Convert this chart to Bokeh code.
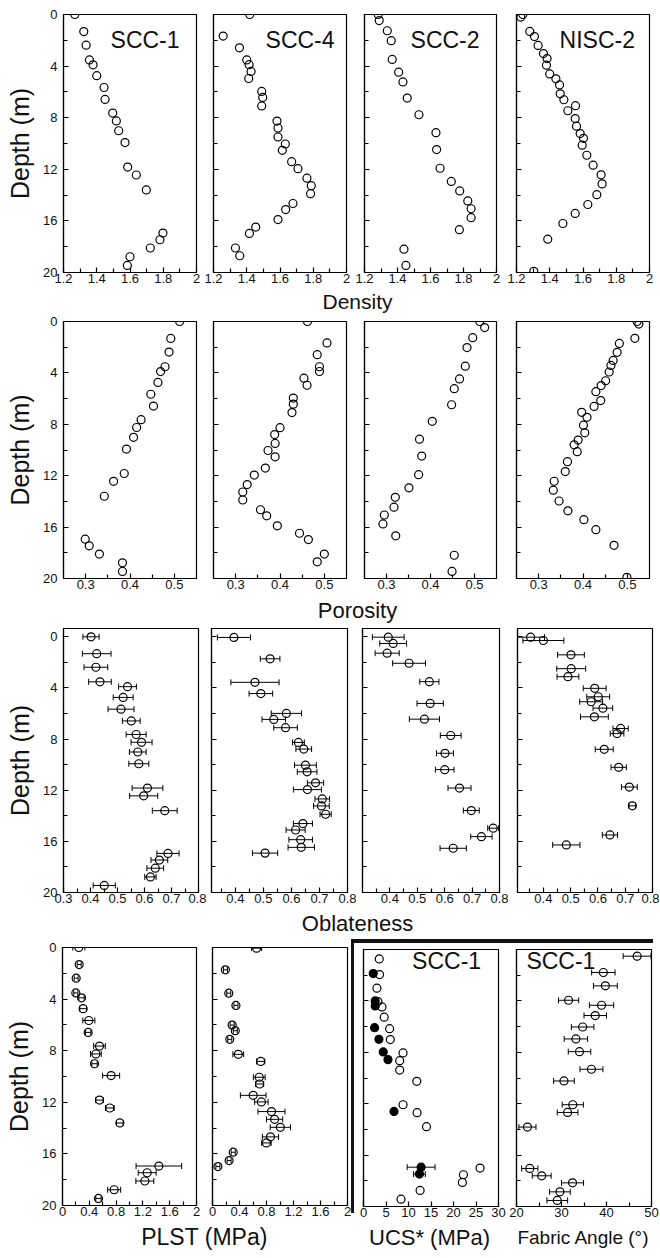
from bokeh.plotting import figure
from bokeh.layouts import row, column
from bokeh.models import Range1d, FixedTicker, Whisker, TeeHead, ColumnDataSource, Label, Div, Spacer
from bokeh.embed import file_html
from bokeh.resources import INLINE
from bokeh.core.properties import value

FONT = "Liberation Sans"

# ---------------- data ----------------
# SCC-1 (same samples for density, porosity, oblateness, PLST)
depth_scc1 = [0, 1.32, 2.38, 3.52, 3.90, 4.74, 5.66, 6.58, 7.64, 8.25, 9.01, 9.93, 11.83, 12.44, 13.6, 16.94, 17.46, 18.1, 18.78, 19.45]
dens_scc1 = [1.268, 1.322, 1.336, 1.356, 1.378, 1.40, 1.444, 1.45, 1.496, 1.518, 1.532, 1.57, 1.586, 1.638, 1.698, 1.798, 1.78, 1.722, 1.60, 1.584]
por_scc1 = [0.512, 0.492, 0.488, 0.479, 0.469, 0.463, 0.447, 0.453, 0.425, 0.415, 0.408, 0.392, 0.387, 0.363, 0.342, 0.299, 0.308, 0.331, 0.383, 0.383]
obl_scc1 = [0.402, 0.423, 0.420, 0.435, 0.537, 0.521, 0.513, 0.551, 0.569, 0.589, 0.575, 0.579, 0.611, 0.597, 0.675, 0.687, 0.655, 0.640, 0.622, 0.451]
obl_err_scc1 = [0.030, 0.053, 0.044, 0.042, 0.033, 0.037, 0.048, 0.033, 0.037, 0.039, 0.031, 0.037, 0.057, 0.052, 0.046, 0.041, 0.031, 0.031, 0.021, 0.041]
plst_scc1 = [0.244, 0.249, 0.204, 0.199, 0.284, 0.308, 0.393, 0.383, 0.552, 0.498, 0.478, 0.726, 0.552, 0.706, 0.856, 1.438, 1.264, 1.229, 0.771, 0.537]
plst_err_scc1 = [0.09, 0.03, 0.03, 0.03, 0.04, 0.05, 0.09, 0.04, 0.087, 0.08, 0.04, 0.127, 0.057, 0.065, 0.05, 0.34, 0.134, 0.134, 0.097, 0.04]

# SCC-4
depth_scc4 = [0, 1.67, 2.58, 3.52, 3.89, 4.41, 4.96, 5.96, 6.43, 7.09, 8.26, 8.80, 9.49, 10.04, 10.53, 11.41, 11.95, 12.69, 13.27, 13.89, 14.65, 15.12, 15.90, 16.48, 16.97, 18.10, 18.70]
dens_scc4 = [1.418, 1.258, 1.356, 1.40, 1.414, 1.426, 1.412, 1.49, 1.496, 1.49, 1.582, 1.588, 1.588, 1.632, 1.614, 1.67, 1.708, 1.762, 1.788, 1.784, 1.678, 1.634, 1.588, 1.454, 1.416, 1.332, 1.358]
por_scc4 = [0.462, 0.506, 0.484, 0.489, 0.489, 0.454, 0.461, 0.430, 0.430, 0.427, 0.400, 0.388, 0.389, 0.373, 0.389, 0.367, 0.342, 0.326, 0.316, 0.316, 0.356, 0.370, 0.394, 0.444, 0.464, 0.500, 0.484]
depth_obl_scc4 = [0.05, 1.72, 3.56, 4.44, 5.99, 6.46, 7.11, 8.26, 8.78, 10.04, 10.56, 11.42, 11.95, 12.68, 13.23, 13.88, 14.61, 15.11, 15.87, 16.47, 16.92]
obl_scc4 = [0.395, 0.524, 0.470, 0.491, 0.582, 0.537, 0.579, 0.625, 0.644, 0.650, 0.656, 0.686, 0.657, 0.71, 0.707, 0.722, 0.641, 0.615, 0.633, 0.635, 0.506]
obl_err_scc4 = [0.059, 0.035, 0.086, 0.042, 0.054, 0.042, 0.042, 0.021, 0.028, 0.039, 0.035, 0.029, 0.05, 0.026, 0.028, 0.02, 0.034, 0.034, 0.042, 0.047, 0.045]
depth_plst_scc4 = [0.05, 1.73, 3.54, 4.49, 6.01, 6.45, 7.12, 8.28, 8.83, 10.06, 10.58, 11.46, 11.97, 12.72, 13.32, 13.94, 14.68, 15.15, 15.87, 16.52, 16.98]
plst_scc4 = [0.653, 0.191, 0.241, 0.347, 0.291, 0.337, 0.256, 0.382, 0.714, 0.693, 0.698, 0.603, 0.724, 0.874, 0.92, 1.005, 0.859, 0.799, 0.307, 0.246, 0.08]
plst_err_scc4 = [0.075, 0.03, 0.03, 0.03, 0.03, 0.03, 0.03, 0.08, 0.06, 0.087, 0.06, 0.19, 0.10, 0.2, 0.12, 0.15, 0.12, 0.07, 0.03, 0.03, 0.03]

# SCC-2
depth_scc2 = [0, 0.47, 1.26, 2.03, 3.48, 4.47, 5.23, 6.48, 7.77, 9.16, 10.47, 11.92, 12.94, 13.68, 14.45, 15.06, 15.75, 16.68, 18.19, 19.45]
dens_scc2 = [1.283, 1.289, 1.338, 1.362, 1.368, 1.407, 1.433, 1.459, 1.53, 1.633, 1.637, 1.658, 1.726, 1.777, 1.826, 1.846, 1.846, 1.775, 1.439, 1.451]
por_scc2 = [0.512, 0.523, 0.496, 0.483, 0.479, 0.466, 0.454, 0.448, 0.404, 0.375, 0.380, 0.373, 0.351, 0.320, 0.317, 0.295, 0.292, 0.321, 0.454, 0.449]
depth_obl_scc2 = [0.03, 0.52, 1.28, 2.07, 3.51, 5.21, 6.44, 7.72, 9.11, 10.39, 11.83, 13.59, 14.97, 15.63, 16.54]
obl_scc2 = [0.394, 0.412, 0.39, 0.47, 0.544, 0.547, 0.526, 0.622, 0.601, 0.60, 0.654, 0.697, 0.777, 0.734, 0.631]
obl_err_scc2 = [0.058, 0.049, 0.044, 0.06, 0.035, 0.048, 0.055, 0.038, 0.031, 0.034, 0.042, 0.029, 0.02, 0.039, 0.048]

# NISC-2
depth_nisc2 = [0, 0.2, 1.31, 1.71, 2.40, 3.03, 3.42, 3.93, 4.61, 4.99, 5.46, 6.15, 6.61, 7.07, 7.46, 8.07, 8.66, 9.23, 9.60, 10.13, 10.91, 11.68, 12.43, 13.13, 13.97, 14.73, 15.42, 16.20, 17.42, 19.91]
dens_nisc2 = [1.238, 1.226, 1.28, 1.308, 1.33, 1.362, 1.384, 1.38, 1.40, 1.437, 1.459, 1.463, 1.485, 1.555, 1.509, 1.553, 1.561, 1.583, 1.603, 1.595, 1.623, 1.661, 1.709, 1.715, 1.683, 1.629, 1.553, 1.479, 1.388, 1.304]
por_nisc2 = [0.522, 0.526, 0.517, 0.482, 0.477, 0.468, 0.463, 0.459, 0.451, 0.441, 0.429, 0.440, 0.425, 0.397, 0.409, 0.401, 0.404, 0.389, 0.380, 0.387, 0.365, 0.360, 0.335, 0.333, 0.346, 0.366, 0.402, 0.429, 0.470, 0.499]
depth_obl_nisc2 = [0.03, 0.29, 1.41, 2.49, 3.12, 4.03, 4.69, 5.08, 5.58, 6.26, 7.17, 7.57, 8.80, 10.21, 11.75, 13.22, 15.50, 16.28]
obl_nisc2 = [0.353, 0.40, 0.501, 0.502, 0.49, 0.588, 0.601, 0.575, 0.618, 0.587, 0.683, 0.67, 0.623, 0.676, 0.715, 0.726, 0.644, 0.484]
obl_err_nisc2 = [0.051, 0.075, 0.049, 0.053, 0.04, 0.042, 0.042, 0.042, 0.036, 0.051, 0.028, 0.025, 0.033, 0.028, 0.029, 0.012, 0.028, 0.05]

# SCC-1 UCS* (open and filled symbols)
depth_ucs_open = [0.73, 1.95, 3.01, 4.05, 4.47, 5.27, 6.16, 7.01, 8.05, 8.65, 9.38, 10.26, 12.08, 12.70, 13.79, 17.01, 17.53, 18.13, 18.75, 19.43]
ucs_open = [3.5, 3.57, 2.98, 3.2, 4.1, 4.6, 5.8, 5.96, 8.79, 8.04, 8.04, 11.84, 8.79, 11.91, 14.0, 25.9, 22.2, 21.97, 12.58, 8.34]
depth_ucs_fill = [1.87, 4.0, 4.39, 6.08, 6.99, 7.97, 8.57, 12.6, 16.94, 17.48]
ucs_fill = [2.16, 2.6, 2.6, 2.46, 3.43, 4.39, 5.44, 6.78, 12.8, 12.43]
ucs_fill_err = [0, 0, 0, 0, 0, 0, 0, 0, 3.1, 1.3]

# SCC-1 fabric angle
depth_fab = [0.52, 1.79, 2.83, 3.95, 4.34, 5.14, 6.03, 6.96, 7.95, 9.32, 10.23, 12.08, 12.68, 13.82, 17.04, 17.61, 18.16, 18.86, 19.53]
fab = [46.8, 39.3, 39.75, 31.57, 38.9, 37.5, 34.7, 33.2, 34.0, 36.65, 30.54, 32.5, 31.35, 22.43, 22.95, 25.6, 32.45, 29.65, 29.06]
fab_err = [3.1, 2.6, 2.65, 2.25, 2.7, 2.5, 2.5, 2.6, 2.5, 2.55, 2.3, 2.35, 2.3, 1.9, 1.8, 2.1, 2.45, 2.3, 2.3]

# tick labels
dens_ticks = [1.2, 1.4, 1.6, 1.8, 2.0]
dens_minor = [1.3, 1.5, 1.7, 1.9]
por_ticks = [0.3, 0.4, 0.5]
por_minor = [0.35, 0.45]
obl_ticks_first = [0.3, 0.4, 0.5, 0.6, 0.7, 0.8]
obl_ticks = [0.4, 0.5, 0.6, 0.7, 0.8]
obl_minor = [0.35, 0.45, 0.55, 0.65, 0.75]
plst_ticks = [0, 0.4, 0.8, 1.2, 1.6, 2.0]
plst_minor = [0.2, 0.6, 1.0, 1.4, 1.8]
ucs_ticks = [0, 5, 10, 15, 20, 25, 30]
fab_ticks = [20, 30, 40, 50]
fab_minor = [25, 35, 45]
depth_ticks = [0, 4, 8, 12, 16, 20]
depth_minor = [2, 6, 10, 14, 18]


# ---------------- helpers ----------------
def panel(w, h, bl, br, bt, bb, xr, yr, xt, xm, ylabels=False):
    p = figure(width=w, height=h, x_range=Range1d(xr[0], xr[1]), y_range=Range1d(yr[0], yr[1]),
               toolbar_location=None, output_backend="svg",
               min_border_left=bl, min_border_right=br, min_border_top=bt, min_border_bottom=bb)
    p.grid.visible = False
    p.outline_line_color = "black"
    p.outline_line_width = 1.2
    xa = p.xaxis[0]
    ya = p.yaxis[0]
    xa.ticker = FixedTicker(ticks=xt, minor_ticks=xm)
    xa.major_label_overrides = {t: ("%g" % t) for t in xt}
    ya.ticker = FixedTicker(ticks=depth_ticks, minor_ticks=depth_minor)
    for ax in (xa, ya):
        ax.axis_line_color = "black"
        ax.axis_line_width = 1.2
        ax.major_tick_line_color = "black"
        ax.minor_tick_line_color = "black"
        ax.major_tick_line_width = 1.2
        ax.minor_tick_line_width = 1.2
        ax.major_tick_in = 5
        ax.major_tick_out = 0
        ax.minor_tick_in = 4
        ax.minor_tick_out = 0
        ax.major_label_text_font = FONT
        ax.major_label_text_font_size = "13px"
        ax.major_label_text_color = "#111111"
    xa.major_label_standoff = 1
    ya.major_label_standoff = 6
    if ylabels:
        ya.axis_label = "Depth (m)"
        ya.axis_label_text_font = FONT
        ya.axis_label_text_font_size = "25px"
        ya.axis_label_text_font_style = "normal"
        ya.axis_label_text_color = "#111111"
        ya.axis_label_standoff = 6
    else:
        ya.major_label_text_font_size = "0px"
        ya.major_label_text_color = None
        ya.major_label_standoff = 0
    return p


def points(p, xs, ys, filled=False):
    p.scatter(x=xs, y=ys, marker="circle", size=8, line_color="black", line_width=1.2,
              fill_color="black" if filled else None)


def errbars(p, xs, ys, errs):
    src = ColumnDataSource(dict(y=ys, lo=[v - e for v, e in zip(xs, errs)], hi=[v + e for v, e in zip(xs, errs)]))
    p.add_layout(Whisker(source=src, base="y", lower="lo", upper="hi", dimension="width",
                         line_color="black", line_width=1,
                         upper_head=TeeHead(size=6, line_color="black", line_width=1),
                         lower_head=TeeHead(size=6, line_color="black", line_width=1)))


def title(p, x, y, text):
    p.add_layout(Label(x=x, y=y, text=text, text_font=FONT, text_font_size="23px",
                       text_color="#111111", text_align="left", text_baseline="middle"))


def label_fig(w, h, items):
    p = figure(width=w, height=h, x_range=Range1d(0, w), y_range=Range1d(0, h),
               toolbar_location=None, output_backend="svg", min_border=0)
    p.axis.visible = False
    p.grid.visible = False
    p.outline_line_color = None
    for (x, y, t, s) in items:
        p.text(x=[x], y=[y], text=[t], text_font=value(FONT), text_font_size=s,
               text_align="center", text_baseline="middle", text_color="#111111")
    return p


# ---------------- row 1: density ----------------
H1 = 14 + 258 + 16
d1 = panel(201, H1, 63, 5, 14, 16, (1.2, 2.0), (20, 0), dens_ticks, dens_minor, ylabels=True)
points(d1, dens_scc1, depth_scc1); title(d1, 1.483, 1.95, "SCC-1")
d2 = panel(150, H1, 12, 5, 14, 16, (1.2, 2.0), (20, 0), dens_ticks, dens_minor)
points(d2, dens_scc4, depth_scc4); title(d2, 1.513, 1.95, "SCC-4")
d3 = panel(150, H1, 13, 5, 14, 16, (1.2, 2.0), (20, 0), dens_ticks, dens_minor)
points(d3, dens_scc2, depth_scc2); title(d3, 1.479, 1.95, "SCC-2")
d4 = panel(155, H1, 15, 7, 14, 16, (1.2, 2.0), (20, 0), dens_ticks, dens_minor)
points(d4, dens_nisc2, depth_nisc2); title(d4, 1.459, 1.95, "NISC-2")
lab1 = label_fig(656, 25, [(357, 12.5, "Density", "21px")])

# ---------------- row 2: porosity ----------------
H2 = 8 + 257 + 16
q1 = panel(201, H2, 63, 5, 8, 16, (0.25, 0.55), (20, 0), por_ticks, por_minor, ylabels=True)
points(q1, por_scc1, depth_scc1)
q2 = panel(150, H2, 12, 5, 8, 16, (0.25, 0.55), (20, 0), por_ticks, por_minor)
points(q2, por_scc4, depth_scc4)
q3 = panel(150, H2, 13, 5, 8, 16, (0.25, 0.55), (20, 0), por_ticks, por_minor)
points(q3, por_scc2, depth_scc2)
q4 = panel(155, H2, 15, 7, 8, 16, (0.25, 0.55), (20, 0), por_ticks, por_minor)
points(q4, por_nisc2, depth_nisc2)
lab2 = label_fig(656, 32, [(357, 16, "Porosity", "22px")])

# ---------------- row 3: oblateness ----------------
H3 = 2 + 264 + 16
o1 = panel(206, H3, 63, 8, 2, 16, (0.3, 0.8), (20, -0.65), obl_ticks_first, obl_minor, ylabels=True)
errbars(o1, obl_scc1, depth_scc1, obl_err_scc1); points(o1, obl_scc1, depth_scc1)
o2 = panel(150, H3, 5, 9, 2, 16, (0.315, 0.8), (20, -0.65), obl_ticks, obl_minor)
errbars(o2, obl_scc4, depth_obl_scc4, obl_err_scc4); points(o2, obl_scc4, depth_obl_scc4)
o3 = panel(152, H3, 6, 9, 2, 16, (0.30, 0.8), (20, -0.65), obl_ticks, obl_minor)
errbars(o3, obl_scc2, depth_obl_scc2, obl_err_scc2); points(o3, obl_scc2, depth_obl_scc2)
o4 = panel(151, H3, 9, 7, 2, 16, (0.305, 0.8), (20, -0.65), obl_ticks, obl_minor)
errbars(o4, obl_nisc2, depth_obl_nisc2, obl_err_nisc2); points(o4, obl_nisc2, depth_obl_nisc2)
lab3 = label_fig(656, 28, [(357, 13.5, "Oblateness", "22px")])

# ---------------- row 4: PLST, UCS*, fabric angle ----------------
H4 = 11 + 258 + 16
s1 = panel(201, H4, 62, 5, 11, 16, (0, 2), (20, 0), plst_ticks, plst_minor, ylabels=True)
errbars(s1, plst_scc1, depth_scc1, plst_err_scc1); points(s1, plst_scc1, depth_scc1)
s2 = panel(150, H4, 11, 4, 11, 16, (0, 2), (20, 0), plst_ticks, plst_minor)
errbars(s2, plst_scc4, depth_plst_scc4, plst_err_scc4); points(s2, plst_scc4, depth_plst_scc4)
lab_plst = label_fig(351, 37, [(204, 22, "PLST (MPa)", "23px")])

H5 = 6 + 257 + 16
u1 = panel(152, H5, 9, 8, 6, 16, (0, 30), (20, 0), ucs_ticks, [])
errbars(u1, ucs_fill, depth_ucs_fill, ucs_fill_err)
points(u1, ucs_open, depth_ucs_open)
points(u1, ucs_fill, depth_ucs_fill, filled=True)
title(u1, 10.8, 0.88, "SCC-1")
f1 = panel(153, H5, 10, 8, 6, 16, (20, 50), (20, 0), fab_ticks, fab_minor)
errbars(f1, fab, depth_fab, fab_err); points(f1, fab, depth_fab)
title(f1, 22.2, 0.88, "SCC-1")
lab_ucs = label_fig(305, 36, [(75, 21, "UCS* (MPa)", "22px"), (229, 21, "Fabric Angle (\u00b0)", "19px")])

vline = Div(text="", width=3, height=274, margin=0, styles={"background-color": "#111111"})
hline = Div(text="", width=299, height=4, margin=0, styles={"background-color": "#111111"})

left_col = column(row(s1, s2), lab_plst)
mid_col = column(Spacer(width=3, height=3, margin=0), vline)
right_col = column(Spacer(width=299, height=3, margin=0), hline, row(u1, f1), lab_ucs)

layout = column(
    row(d1, d2, d3, d4), lab1,
    row(q1, q2, q3, q4), lab2,
    row(o1, o2, o3, o4), lab3,
    row(left_col, mid_col, right_col),
)

open("out.html", "w").write(file_html(layout, INLINE))
